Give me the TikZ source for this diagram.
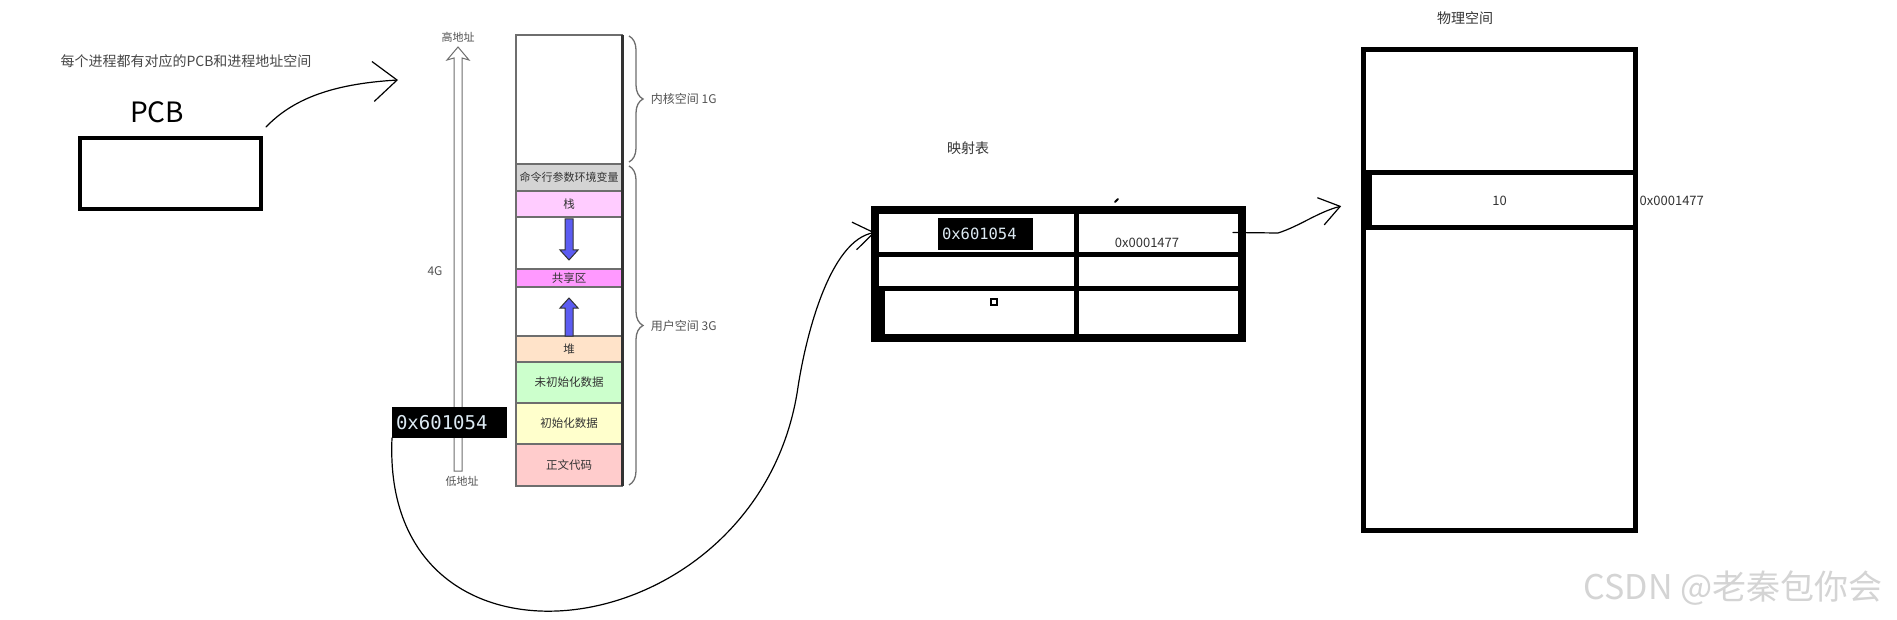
\documentclass[tikz,border=0pt]{standalone}
\usepackage{fontspec}
\usetikzlibrary{positioning,arrows.meta,decorations.pathreplacing}
\newfontfamily\cjk{Noto Sans CJK SC}
\newfontfamily\codefont{DejaVu Sans Mono}
\definecolor{Ink}{HTML}{333333}
\definecolor{Frame}{HTML}{6E6E6E}
\definecolor{CmdGray}{HTML}{D4D4D4}
\definecolor{StackPink}{HTML}{FFCCFF}
\definecolor{SharedPink}{HTML}{FF99FF}
\definecolor{HeapPeach}{HTML}{FFE3C9}
\definecolor{BssGreen}{HTML}{CCFFCC}
\definecolor{DataYellow}{HTML}{FFFFCC}
\definecolor{CodeRed}{HTML}{FFCCCC}
\definecolor{GrowBlue}{HTML}{5C5CF2}
\definecolor{CodeText}{HTML}{DCE9F2}
\definecolor{Mark}{HTML}{D4D4D4}

\begin{document}
\begin{tikzpicture}[x=1pt,y=-1pt,
    seg/.style={draw=Frame,line width=1.4pt,minimum width=106pt,inner sep=1pt,outer sep=0pt,font=\cjk\fontsize{11.5}{12}\selectfont,text=Ink},
    cell/.style={draw,line width=5pt,inner sep=0pt,outer sep=0pt},
    phys/.style={draw,line width=5pt,minimum width=272pt,inner sep=0pt,outer sep=0pt,font=\cjk\fontsize{13}{14}\selectfont,text=Ink},
    lbl/.style={font=\cjk\fontsize{12}{14}\selectfont,text=Ink!85},
    heading/.style={font=\cjk\fontsize{14}{16}\selectfont,text=Ink},
    num/.style={font=\cjk\fontsize{13}{14}\selectfont,text=Ink,inner sep=1pt},
    codebox/.style={fill=black,text=CodeText,align=left,inner xsep=4pt,inner ysep=0pt,outer sep=0pt},
    hand/.style={line width=1.2pt,line cap=round},
    growarrow/.style={fill=GrowBlue,draw=Ink,line width=1pt},
    curly/.style={Frame,line width=1.3pt,decorate,decoration={brace,amplitude=14pt}}]
    \fill[white] (0,0) rectangle (1897,620);
    \useasboundingbox (0,0) rectangle (1897,620);

    \node[heading,text=Ink!90] (note) at (186,61) {每个进程都有对应的PCB和进程地址空间};
    \node[font=\cjk\fontsize{28}{30}\selectfont] (pcblabel) at (157,112) {PCB};
    \node[draw,line width=4pt,minimum width=181pt,minimum height=71pt] (pcb) at (170.5,173.5) {};
    \coordinate (pcbtip) at (398,80);
    \draw[hand,-{Straight Barb[length=24pt,width=40pt]}] ([shift={(3,-9)}]pcb.north east) .. controls (292,100) and (330,84) .. (pcbtip);

    \coordinate (atop) at (458,47);
    \coordinate (abot) at (458,471);
    \draw[Frame,line width=1pt,fill=white] (454,471) -- (454,58) -- (447,60) -- (atop) -- (469,60) -- (462,58) -- (462,471) -- cycle;
    \node[lbl,font=\cjk\fontsize{11}{12}\selectfont,above=1pt of atop] (hiaddr) {高地址};
    \node[lbl,font=\cjk\fontsize{11}{12}\selectfont,below=2pt of abot,xshift=4pt] (loaddr) {低地址};
    \node[lbl] (size) at (435,271) {4G};

    \node[seg,minimum height=129pt] (kern) at (569,99.5) {};
    \node[seg,minimum height=27pt,fill=CmdGray,below=0pt of kern,font=\cjk\fontsize{11}{12}\selectfont] (cmd) {命令行参数环境变量};
    \node[seg,minimum height=26pt,fill=StackPink,below=0pt of cmd] (stack) {栈};
    \node[seg,minimum height=52pt,below=0pt of stack] (gapdown) {};
    \node[seg,minimum height=18pt,fill=SharedPink,below=0pt of gapdown] (shared) {共享区};
    \node[seg,minimum height=49pt,below=0pt of shared] (gapup) {};
    \node[seg,minimum height=26pt,fill=HeapPeach,below=0pt of gapup] (heap) {堆};
    \node[seg,minimum height=41pt,fill=BssGreen,below=0pt of heap] (bss) {未初始化数据};
    \node[seg,minimum height=41pt,fill=DataYellow,below=0pt of bss] (data) {初始化数据};
    \node[seg,minimum height=42pt,fill=CodeRed,below=0pt of data] (code) {正文代码};
    \draw[Ink,line width=3pt] (kern.north east) -- (code.south east);
    \draw[growarrow] (565,219) -- (573,219) -- (573,250) -- (578,250) -- (569,260) -- (560,250) -- (565,250) -- cycle;
    \draw[growarrow] (565,336) -- (573,336) -- (573,308) -- (578,308) -- (569,298) -- (560,308) -- (565,308) -- cycle;

    \draw[curly] ([shift={(7,1)}]kern.north east) -- ([shift={(7,-2)}]kern.south east)
        node[lbl,midway,anchor=west,xshift=18pt] (kernlabel) {内核空间 1G};
    \draw[curly] ([shift={(7,2)}]cmd.north east) -- ([shift={(7,-1)}]code.south east)
        node[lbl,midway,anchor=west,xshift=18pt] (userlabel) {用户空间 3G};

    \node[codebox,text width=107pt,minimum height=31pt,font=\codefont\fontsize{19}{20}\selectfont] (vaddr) at (449.5,422.5) {0x601054};

    \node[heading] (maptitle) at (968,148) {映射表};
    \node[cell,minimum width=201pt,minimum height=45pt] (r1a) at (975.5,232.5) {};
    \node[cell,minimum width=166pt,minimum height=45pt,right=0pt of r1a] (r1b) {};
    \node[cell,minimum width=201pt,minimum height=33pt,below=0pt of r1a] (r2a) {};
    \node[cell,minimum width=166pt,minimum height=33pt,right=0pt of r2a] (r2b) {};
    \node[cell,minimum width=201pt,minimum height=50pt,below=0pt of r2a] (r3a) {};
    \node[cell,minimum width=166pt,minimum height=50pt,right=0pt of r3a] (r3b) {};
    \draw[line width=8pt] (r1a.north west) rectangle (r3b.south east);
    \fill ([shift={(0,-2)}]r3a.north west) rectangle ([shift={(10,0)}]r3a.south west);
    \node[codebox,text width=87pt,minimum height=32pt,font=\codefont\fontsize{15.5}{16}\selectfont] (tablekey) at ([shift={(10,1.5)}]r1a.center) {0x601054};
    \node[num] (tableval) at ([shift={(-12,10)}]r1b.center) {0x0001477};
    \node[draw,line width=1.5pt,minimum size=6pt,inner sep=0pt] (dot) at ([shift={(18.5,-11)}]r3a.center) {};
    \draw[line width=2pt,line cap=round] (1115,202) -- (1118,199);

    \draw[hand,-{Straight Barb[length=20pt,width=28pt]}] (vaddr.south west) .. controls (380,700) and (760,650) .. (798,387) .. controls (806,335) and (830,240) .. (r1a.west);

    \node[heading] (phystitle) at (1465,18) {物理空间};
    \node[phys,minimum height=123.5pt] (phtop) at (1499.5,111.25) {};
    \node[phys,minimum height=55pt,below=0pt of phtop] (phrow) {10};
    \node[phys,minimum height=302.5pt,below=0pt of phrow] (phbot) {};
    \fill (phrow.north west) rectangle ([xshift=8pt]phrow.south west);
    \node[num,right=3pt of phrow] (physaddr) {0x0001477};
    \draw[hand,-{Straight Barb[length=20pt,width=28pt]},shorten >=23pt] ([xshift=-9pt]r1b.east) -- (1278,233) .. controls (1300,226) and (1318,212) .. (phrow.west);

    \node[font=\cjk\fontsize{34}{36}\selectfont,text=Mark] (csdn) at (1733,588) {CSDN @老秦包你会};
\end{tikzpicture}
\end{document}
